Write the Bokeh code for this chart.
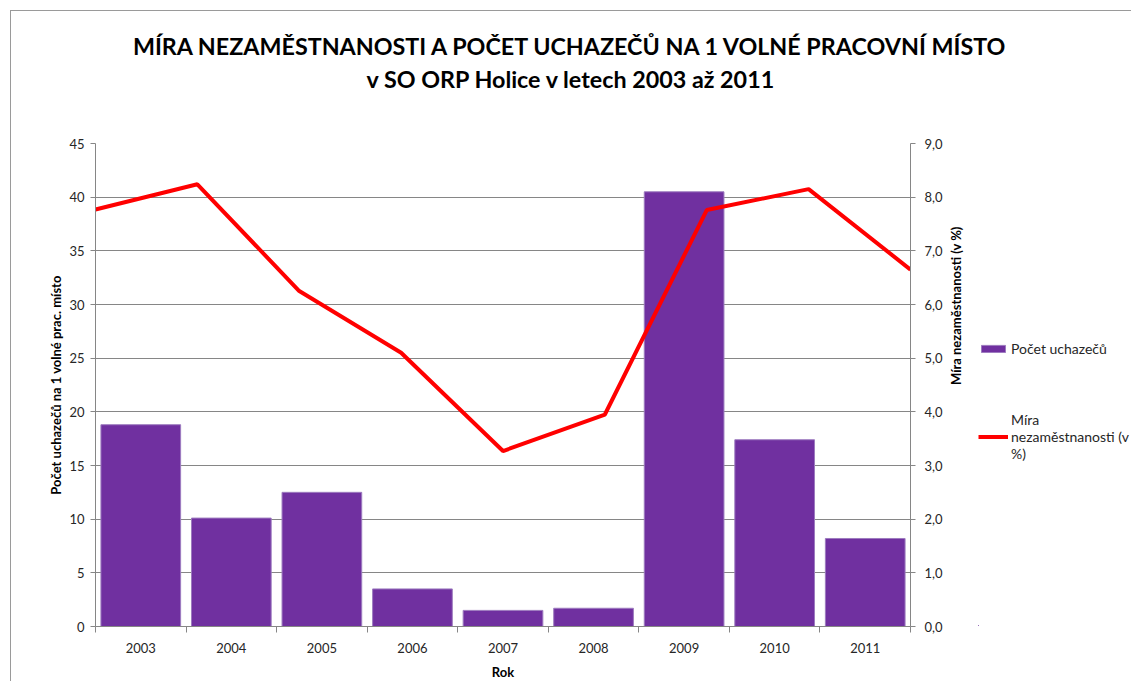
import math
from bokeh.plotting import figure
from bokeh.layouts import row, column
from bokeh.models import (Range1d, LinearAxis, FixedTicker, Label,
                          CustomJSTickFormatter, Legend, LegendItem, Grid)
from bokeh.embed import file_html
from bokeh.resources import INLINE

# ---- data ----
years = ["2003", "2004", "2005", "2006", "2007", "2008", "2009", "2010", "2011"]
applicants = [18.8, 10.1, 12.5, 3.5, 1.5, 1.7, 40.5, 17.4, 8.2]
unemployment = [7.77, 8.24, 6.25, 5.10, 3.27, 3.95, 7.76, 8.15, 6.65]
left_ticks = [0, 5, 10, 15, 20, 25, 30, 35, 40, 45]
right_ticks = [0, 1, 2, 3, 4, 5, 6, 7, 8, 9]
title_lines = ["MÍRA NEZAMĚSTNANOSTI A POČET UCHAZEČŮ NA 1 VOLNÉ PRACOVNÍ MÍSTO",
               "v SO ORP Holice v letech 2003 až 2011"]
left_label = "Počet uchazečů na 1 volné prac. místo"
right_label = "Míra nezaměstnanosti (v %)"
x_label = "Rok"
bar_name = "Počet uchazečů"
line_name = "Míra\nnezaměstnanosti (v\n%)"

FONT = "Lato"
GRAY = "#868686"
TXT = "#262626"
BAR = "#7030A0"
BAR_EDGE = "#9d7bbf"
RED = "#FF0000"

n = len(years)
idx = list(range(n))

HEAD_H = 122
TOP, BOTTOM, LEFT, RIGHT = 10, 55, 84, 68
FW, FH = 815, 483
TOTAL_W = 1120
P_W = LEFT + FW + RIGHT
P_H = TOP + FH + BOTTOM

# ---- header with the two title lines ----
head = figure(width=TOTAL_W, height=HEAD_H, output_backend="svg", toolbar_location=None,
              title=None, x_axis_location=None, y_axis_location=None, min_border=0,
              x_range=Range1d(0, TOTAL_W), y_range=Range1d(0, HEAD_H))
head.outline_line_color = None
head.background_fill_color = "white"
head.border_fill_color = "white"
head.xgrid.grid_line_color = None
head.ygrid.grid_line_color = None
for txt, yy in zip(title_lines, [88, 55]):
    head.add_layout(Label(x=TOTAL_W / 2, y=yy, text=txt, text_align="center",
                          text_baseline="middle", text_font=FONT, text_font_size="23.3px",
                          text_font_style="bold", text_color="black"))

# ---- main chart ----
p = figure(frame_width=FW, frame_height=FH, x_range=Range1d(-0.5, n - 0.5), y_range=Range1d(0, 45),
           output_backend="svg", toolbar_location=None, title=None,
           x_axis_location=None, y_axis_location=None,
           min_border_left=LEFT, min_border_right=RIGHT, min_border_top=TOP, min_border_bottom=BOTTOM)
p.outline_line_color = None
p.background_fill_color = "white"
p.border_fill_color = "white"
p.xgrid.grid_line_color = None
p.ygrid.grid_line_color = None

p.extra_y_ranges = {"rate": Range1d(0, 9)}
p.extra_x_ranges = {"yr": Range1d(int(years[0]), int(years[-1]))}

bars = p.vbar(x=idx, top=applicants, width=0.88, fill_color=BAR,
              line_color=BAR_EDGE, line_width=1)
line = p.line(x=[int(y) for y in years], y=unemployment, x_range_name="yr",
              y_range_name="rate", line_color=RED, line_width=4)

def style_axis(ax):
    ax.axis_line_color = GRAY
    ax.major_tick_line_color = GRAY
    ax.minor_tick_line_color = None
    ax.major_tick_out = 5
    ax.major_tick_in = 0
    ax.major_label_text_font = FONT
    ax.major_label_text_font_size = "13px"
    ax.major_label_text_color = TXT
    ax.axis_label_text_font = FONT
    ax.axis_label_text_font_size = "13px"
    ax.axis_label_text_font_style = "bold"
    ax.axis_label_text_color = "black"

left = LinearAxis(ticker=FixedTicker(ticks=left_ticks), axis_label=left_label)
style_axis(left)
left.major_label_standoff = 6
left.axis_label_standoff = 2
p.add_layout(left, "left")

right = LinearAxis(y_range_name="rate", ticker=FixedTicker(ticks=right_ticks),
                   axis_label=right_label,
                   formatter=CustomJSTickFormatter(code="return tick.toFixed(1).replace('.', ',');"))
style_axis(right)
right.major_label_standoff = 9
right.axis_label_standoff = 10
try:
    right.axis_label_orientation = math.pi / 2
except Exception:
    pass
p.add_layout(right, "right")

edge_axis = LinearAxis(ticker=FixedTicker(ticks=[i - 0.5 for i in range(n + 1)]),
                       formatter=CustomJSTickFormatter(code="return '';"))
style_axis(edge_axis)
edge_axis.major_label_standoff = 0
edge_axis.major_tick_out = 6
p.add_layout(edge_axis, "below")

cat_axis = LinearAxis(ticker=FixedTicker(ticks=idx), axis_label=x_label,
                      major_label_overrides={i: y for i, y in zip(idx, years)})
style_axis(cat_axis)
cat_axis.axis_line_color = None
cat_axis.major_tick_line_color = None
cat_axis.major_tick_out = 0
cat_axis.major_label_standoff = 10
cat_axis.axis_label_standoff = 8
p.add_layout(cat_axis, "below")

p.add_layout(Grid(dimension=1, ticker=left.ticker, grid_line_color=GRAY, grid_line_width=1))

# ---- legend panel (legend proxies use the same data, kept outside the visible range) ----
q = figure(width=TOTAL_W - P_W, height=P_H, output_backend="svg", toolbar_location=None, title=None,
           x_axis_location=None, y_axis_location=None, min_border=0,
           x_range=Range1d(100, 101), y_range=Range1d(100, 101))
q.outline_line_color = None
q.background_fill_color = "white"
q.border_fill_color = "white"
q.xgrid.grid_line_color = None
q.ygrid.grid_line_color = None
lb = q.vbar(x=idx, top=applicants, width=0.88, fill_color=BAR, line_color=BAR_EDGE, line_width=1)
ll = q.line(x=idx, y=unemployment, line_color=RED, line_width=4)
legend = Legend(items=[LegendItem(label=bar_name, renderers=[lb]),
                       LegendItem(label=line_name, renderers=[ll])],
                location=(0, 163), border_line_color=None, background_fill_alpha=0,
                label_text_font=FONT, label_text_font_size="14px", label_text_color=TXT,
                glyph_width=30, glyph_height=9, label_standoff=3, spacing=54,
                padding=0, margin=0, label_height=14)
q.add_layout(legend, "center")

layout = column(head, row(p, q),
                styles={"margin-left": "10px", "margin-top": "10px",
                        "border-left": "1px solid #9a9a9a", "border-top": "1px solid #9a9a9a"})

open("out.html", "w").write(file_html(layout, INLINE))
